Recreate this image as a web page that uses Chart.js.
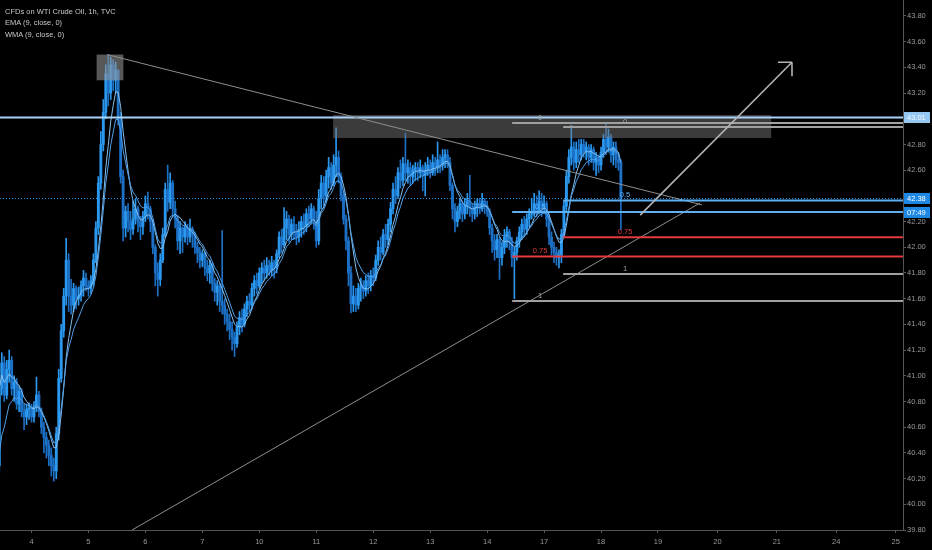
<!DOCTYPE html>
<html>
<head>
<meta charset="utf-8">
<title>CFDs on WTI Crude Oil, 1h</title>
<script src="https://cdn.jsdelivr.net/npm/chart.js@4.4.1/dist/chart.umd.min.js"></script>
<style>
  html, body { margin: 0; padding: 0; background: #000; }
  #wrap { position: relative; width: 932px; height: 550px; background: #000; overflow: hidden; }
  #legend {
    position: absolute; left: 5px; top: 6px;
    font-family: "Liberation Sans", Arial, sans-serif; font-size: 7.5px; line-height: 11.3px;
    color: #c8c8c8; pointer-events: none;
  }
</style>
</head>
<body>
<div id="wrap">
  <canvas id="chart" width="932" height="550"></canvas>
  <div id="legend">
    <div>CFDs on WTI Crude Oil, 1h, TVC</div>
    <div>EMA (9, close, 0)</div>
    <div>WMA (9, close, 0)</div>
  </div>
</div>
<script>
// hourly bars, 12 per row
const opens = [
  40.30, 40.90, 41.10, 40.85, 41.05, 41.12, 40.90, 40.95, 40.78, 40.88, 40.72, 40.68,
  40.74, 40.75, 40.68, 40.76, 40.85, 40.72, 40.60, 40.52, 40.46, 40.38, 40.30, 40.26,
  40.55, 40.98, 41.35, 41.62, 41.90, 41.62, 41.55, 41.68, 41.60, 41.62, 41.70, 41.76,
  41.70, 41.68, 41.74, 41.90, 42.15, 42.50, 42.80, 43.05, 43.35, 43.20, 43.42, 43.30,
  43.38, 43.00, 42.55, 42.15, 42.28, 42.20, 42.14, 42.22, 42.30, 42.20, 42.16, 42.24,
  42.34, 42.30, 42.20, 42.00, 41.80, 41.75, 41.90, 42.10, 42.45, 42.35, 42.50, 42.30,
  42.22, 42.05, 42.15, 42.08, 42.15, 42.08, 42.14, 42.10, 42.00, 41.96, 41.90, 41.95,
  41.84, 41.80, 41.86, 41.72, 41.65, 41.70, 41.58, 41.55, 41.48, 41.42, 41.36, 41.30,
  41.25, 41.38, 41.45, 41.40, 41.52, 41.58, 41.55, 41.68, 41.74, 41.70, 41.80, 41.84,
  41.80, 41.86, 41.82, 41.88, 41.84, 41.95, 42.08, 42.02, 42.15, 42.22, 42.10, 42.18,
  42.12, 42.08, 42.14, 42.20, 42.16, 42.26, 42.22, 42.30, 42.20, 42.05, 42.38, 42.50,
  42.40, 42.55, 42.62, 42.50, 42.64, 42.70, 42.55, 42.40, 42.22, 42.05, 41.80, 41.56,
  41.62, 41.55, 41.68, 41.70, 41.66, 41.74, 41.70, 41.78, 41.76, 41.90, 42.00, 41.96,
  42.10, 42.06, 42.18, 42.30, 42.45, 42.40, 42.58, 42.52, 42.65, 42.58, 42.62, 42.55,
  42.60, 42.62, 42.58, 42.62, 42.56, 42.60, 42.64, 42.58, 42.66, 42.62, 42.68, 42.64,
  42.70, 42.72, 42.66, 42.48, 42.30, 42.20, 42.28, 42.34, 42.26, 42.32, 42.36, 42.30,
  42.26, 42.32, 42.34, 42.30, 42.36, 42.32, 42.28, 42.15, 42.05, 41.98, 42.06, 41.92,
  42.00, 42.08, 42.12, 42.04, 41.92, 41.96, 42.05, 42.12, 42.18, 42.14, 42.22, 42.26,
  42.26, 42.34, 42.28, 42.36, 42.30, 42.34, 42.22, 42.08, 42.00, 41.96, 41.92, 41.94,
  42.10, 42.32, 42.55, 42.70, 42.78, 42.66, 42.76, 42.72, 42.80, 42.74, 42.78, 42.70,
  42.76, 42.66, 42.70, 42.64, 42.74, 42.84, 42.78, 42.86, 42.72, 42.78, 42.68, 42.66
];
const highs = [
  40.95, 41.18, 41.15, 41.12, 41.20, 41.15, 41.00, 40.98, 40.92, 40.90, 40.78, 40.78,
  40.79, 40.78, 40.80, 40.99, 40.88, 40.75, 40.64, 40.56, 40.50, 40.44, 40.36, 40.60,
  41.05, 41.40, 41.68, 42.07, 41.95, 41.75, 41.72, 41.70, 41.69, 41.74, 41.82, 41.80,
  41.74, 41.78, 41.95, 42.20, 42.55, 42.90, 43.15, 43.42, 43.50, 43.48, 43.46, 43.44,
  43.38, 43.05, 42.60, 42.32, 42.34, 42.28, 42.36, 42.38, 42.32, 42.24, 42.28, 42.40,
  42.43, 42.32, 42.22, 42.02, 41.88, 41.95, 42.15, 42.50, 42.64, 42.58, 42.52, 42.36,
  42.25, 42.20, 42.16, 42.20, 42.18, 42.22, 42.16, 42.12, 42.04, 42.00, 41.98, 41.96,
  41.90, 41.90, 41.88, 41.76, 41.74, 41.72, 42.13, 41.60, 41.52, 41.48, 41.42, 41.34,
  41.42, 41.50, 41.52, 41.56, 41.62, 41.64, 41.72, 41.78, 41.80, 41.84, 41.88, 41.90,
  41.92, 41.90, 41.93, 41.90, 41.98, 42.12, 42.14, 42.31, 42.28, 42.25, 42.22, 42.24,
  42.18, 42.20, 42.24, 42.26, 42.30, 42.32, 42.34, 42.32, 42.28, 42.45, 42.56, 42.55,
  42.60, 42.70, 42.66, 42.72, 42.93, 42.75, 42.58, 42.44, 42.25, 42.08, 41.85, 41.70,
  41.68, 41.72, 41.76, 41.74, 41.78, 41.80, 41.82, 41.84, 41.94, 42.05, 42.08, 42.14,
  42.18, 42.22, 42.35, 42.50, 42.55, 42.62, 42.68, 42.70, 42.89, 42.68, 42.66, 42.64,
  42.66, 42.66, 42.68, 42.64, 42.66, 42.70, 42.68, 42.72, 42.70, 42.82, 42.72, 42.76,
  42.76, 42.76, 42.70, 42.50, 42.34, 42.32, 42.38, 42.36, 42.38, 42.42, 42.56, 42.34,
  42.36, 42.38, 42.38, 42.42, 42.38, 42.36, 42.30, 42.18, 42.10, 42.10, 42.08, 42.04,
  42.14, 42.16, 42.14, 42.08, 42.00, 42.08, 42.16, 42.22, 42.24, 42.26, 42.30, 42.38,
  42.42, 42.40, 42.44, 42.42, 42.40, 42.36, 42.26, 42.12, 42.04, 42.00, 41.98, 42.14,
  42.36, 42.60, 42.76, 42.95, 42.82, 42.82, 42.84, 42.84, 42.84, 42.82, 42.80, 42.80,
  42.78, 42.74, 42.72, 42.78, 42.88, 42.97, 42.92, 42.88, 42.82, 42.82, 42.74, 42.68
];
const lows = [
  40.25, 40.85, 40.80, 40.82, 40.95, 40.85, 40.80, 40.74, 40.72, 40.68, 40.58, 40.62,
  40.66, 40.64, 40.64, 40.72, 40.68, 40.55, 40.40, 40.36, 40.30, 40.22, 40.18, 40.20,
  40.50, 40.95, 41.30, 41.55, 41.50, 41.48, 41.50, 41.52, 41.55, 41.58, 41.62, 41.66,
  41.62, 41.64, 41.70, 41.88, 42.10, 42.45, 42.75, 43.00, 43.10, 43.15, 43.22, 43.20,
  42.95, 42.50, 42.05, 42.08, 42.12, 42.06, 42.10, 42.18, 42.12, 42.06, 42.10, 42.20,
  42.22, 42.12, 41.95, 41.70, 41.62, 41.70, 41.88, 42.08, 42.28, 42.30, 42.24, 42.15,
  41.98, 41.95, 41.96, 42.04, 42.02, 42.04, 42.00, 41.95, 41.88, 41.84, 41.85, 41.78,
  41.74, 41.72, 41.66, 41.58, 41.55, 41.50, 41.48, 41.40, 41.35, 41.28, 41.20, 41.15,
  41.22, 41.32, 41.34, 41.38, 41.46, 41.50, 41.52, 41.62, 41.64, 41.68, 41.72, 41.74,
  41.76, 41.78, 41.78, 41.76, 41.80, 41.92, 41.96, 42.00, 42.06, 42.04, 42.06, 42.06,
  42.02, 42.04, 42.08, 42.10, 42.12, 42.16, 42.18, 42.14, 42.00, 42.02, 42.30, 42.32,
  42.36, 42.46, 42.45, 42.48, 42.55, 42.50, 42.36, 42.18, 41.98, 41.70, 41.49, 41.50,
  41.50, 41.52, 41.58, 41.60, 41.62, 41.64, 41.66, 41.70, 41.74, 41.86, 41.90, 41.94,
  42.00, 42.02, 42.12, 42.26, 42.34, 42.38, 42.46, 42.48, 42.52, 42.50, 42.48, 42.50,
  42.52, 42.52, 42.54, 42.44, 42.40, 42.56, 42.54, 42.56, 42.56, 42.58, 42.58, 42.60,
  42.62, 42.62, 42.44, 42.22, 42.12, 42.16, 42.22, 42.20, 42.22, 42.26, 42.24, 42.20,
  42.22, 42.24, 42.26, 42.28, 42.26, 42.24, 42.10, 41.96, 41.90, 41.92, 41.75, 41.86,
  41.95, 42.00, 41.98, 41.85, 41.60, 41.90, 42.00, 42.06, 42.08, 42.10, 42.16, 42.22,
  42.24, 42.24, 42.26, 42.24, 42.26, 42.16, 42.02, 41.94, 41.88, 41.86, 41.84, 41.88,
  42.08, 42.28, 42.50, 42.64, 42.60, 42.62, 42.66, 42.68, 42.70, 42.68, 42.64, 42.66,
  42.60, 42.56, 42.58, 42.60, 42.70, 42.72, 42.74, 42.66, 42.64, 42.62, 42.60, 42.14
];
const closes = [
  40.90, 41.10, 40.85, 41.05, 41.12, 40.90, 40.95, 40.78, 40.88, 40.72, 40.68, 40.74,
  40.75, 40.68, 40.76, 40.85, 40.72, 40.60, 40.52, 40.46, 40.38, 40.30, 40.26, 40.55,
  40.98, 41.35, 41.62, 41.90, 41.62, 41.55, 41.68, 41.60, 41.62, 41.70, 41.76, 41.70,
  41.68, 41.74, 41.90, 42.15, 42.50, 42.80, 43.05, 43.35, 43.20, 43.42, 43.30, 43.38,
  43.00, 42.55, 42.15, 42.28, 42.20, 42.14, 42.22, 42.30, 42.20, 42.16, 42.24, 42.34,
  42.30, 42.20, 42.00, 41.80, 41.75, 41.90, 42.10, 42.45, 42.35, 42.50, 42.30, 42.22,
  42.05, 42.15, 42.08, 42.15, 42.08, 42.14, 42.10, 42.00, 41.96, 41.90, 41.95, 41.84,
  41.80, 41.86, 41.72, 41.65, 41.70, 41.58, 41.55, 41.48, 41.42, 41.36, 41.30, 41.25,
  41.38, 41.45, 41.40, 41.52, 41.58, 41.55, 41.68, 41.74, 41.70, 41.80, 41.84, 41.80,
  41.86, 41.82, 41.88, 41.84, 41.95, 42.08, 42.02, 42.15, 42.22, 42.10, 42.18, 42.12,
  42.08, 42.14, 42.20, 42.16, 42.26, 42.22, 42.30, 42.20, 42.05, 42.38, 42.50, 42.40,
  42.55, 42.62, 42.50, 42.64, 42.70, 42.55, 42.40, 42.22, 42.05, 41.80, 41.56, 41.62,
  41.55, 41.68, 41.70, 41.66, 41.74, 41.70, 41.78, 41.76, 41.90, 42.00, 41.96, 42.10,
  42.06, 42.18, 42.30, 42.45, 42.40, 42.58, 42.52, 42.65, 42.58, 42.62, 42.55, 42.60,
  42.62, 42.58, 42.62, 42.56, 42.60, 42.64, 42.58, 42.66, 42.62, 42.68, 42.64, 42.70,
  42.72, 42.66, 42.48, 42.30, 42.20, 42.28, 42.34, 42.26, 42.32, 42.36, 42.30, 42.26,
  42.32, 42.34, 42.30, 42.36, 42.32, 42.28, 42.15, 42.05, 41.98, 42.06, 41.92, 42.00,
  42.08, 42.12, 42.04, 41.92, 41.96, 42.05, 42.12, 42.18, 42.14, 42.22, 42.26, 42.26,
  42.34, 42.28, 42.36, 42.30, 42.34, 42.22, 42.08, 42.00, 41.96, 41.92, 41.94, 42.10,
  42.32, 42.55, 42.70, 42.78, 42.66, 42.76, 42.72, 42.80, 42.74, 42.78, 42.70, 42.76,
  42.66, 42.70, 42.64, 42.74, 42.84, 42.78, 42.86, 42.72, 42.78, 42.68, 42.66, 42.38
];

// day labels sit on the first bar of each session (future days are 24 bars)
const dayTicks = [13, 36, 59, 82, 105, 128, 151, 174, 197, 220, 243, 266, 290, 314, 338, 362];
const dayLabels = ['4', '5', '6', '7', '10', '11', '12', '13', '14', '17', '18', '19', '20', '21', '24', '25'];
const priceTicks = [39.8, 40.0, 40.2, 40.4, 40.6, 40.8, 41.0, 41.2, 41.4, 41.6, 41.8,
                    42.0, 42.2, 42.4, 42.6, 42.8, 43.0, 43.2, 43.4, 43.6, 43.8];

const maLength = 9;
const emaSeed = 40.27;

// drawings, in bar index and price
const zones = [[39.3, 50.1, 43.50, 43.30], [134.8, 311.7, 43.03, 42.85]];
const trendLines = [[43.5, 43.50, 283.8, 42.33], [53.6, 39.80, 283.0, 42.345]];
const arrowLine = [258.8, 42.25, 320.1, 43.44];
const levelPrice = 43.01;
const lastPrice = 42.38;
const countdown = '07:49';
const fibLevels = [0, 0.5, 0.75, 1];
const fibStarts = [207.1, 227.7];
const fibLabelAt = [218.4, 252.7];
const fibTops = [42.967, 42.936];
const fibBottoms = [41.582, 41.792];

function emaOf(values, length, seed) {
  const k = 2 / (length + 1);
  let prev = seed;
  return values.map(v => (prev = prev + k * (v - prev)));
}

function wmaOf(values, length) {
  return values.map((v, i) => {
    let num = 0, den = 0;
    for (let w = 1; w <= length; w++) {
      const idx = i - length + w;
      if (idx < 0) continue;
      num += values[idx] * w;
      den += w;
    }
    return num / den;
  });
}

const upColor = '#2b98f0';
const downColor = '#1c70c6';
const candleColors = closes.map((c, j) => (c >= opens[j] ? upColor : downColor));
const ema = emaOf(closes, maLength, emaSeed);
const wma = wmaOf(closes, maLength);
const fibColors = ['#a0a0a0', '#5fb0f2', '#e23b3f', '#a0a0a0'];
const font = '"Liberation Sans", Arial, sans-serif';

function strokeLine(ctx, x0, y0, x1, y1) {
  ctx.beginPath();
  ctx.moveTo(x0, y0);
  ctx.lineTo(x1, y1);
  ctx.stroke();
}

const drawings = {
  id: 'drawings',
  afterDatasetsDraw(chart) {
    const { ctx, chartArea: area, scales: { x, y } } = chart;
    const px = v => x.getPixelForValue(v);
    const py = v => y.getPixelForValue(v);
    ctx.save();
    ctx.beginPath();
    ctx.rect(area.left, area.top, area.right - area.left, area.bottom - area.top);
    ctx.clip();

    zones.forEach((z, k) => {
      ctx.fillStyle = k === 0 ? 'rgba(150,150,150,0.58)' : 'rgba(118,118,118,0.5)';
      ctx.fillRect(px(z[0]), py(z[2]), px(z[1]) - px(z[0]), py(z[3]) - py(z[2]));
    });

    ctx.lineWidth = 2;
    ctx.strokeStyle = '#a9d4f7';
    strokeLine(ctx, area.left, py(levelPrice), area.right, py(levelPrice));

    ctx.lineWidth = 1;
    ctx.strokeStyle = '#2196f3';
    ctx.setLineDash([1, 2]);
    strokeLine(ctx, area.left, py(lastPrice), area.right, py(lastPrice));
    ctx.setLineDash([]);

    ctx.strokeStyle = '#8e8e8e';
    ctx.lineWidth = 1;
    trendLines.forEach(t => strokeLine(ctx, px(t[0]), py(t[1]), px(t[2]), py(t[3])));

    ctx.font = '7.5px ' + font;
    ctx.textAlign = 'center';
    ctx.textBaseline = 'bottom';
    fibStarts.forEach((start, k) => {
      fibLevels.forEach((lv, n) => {
        const price = fibTops[k] - (fibTops[k] - fibBottoms[k]) * lv;
        ctx.strokeStyle = fibColors[n];
        ctx.lineWidth = 2;
        strokeLine(ctx, px(start), py(price), area.right, py(price));
        ctx.fillStyle = fibColors[n];
        ctx.fillText(String(lv), px(fibLabelAt[k]), py(price) - 1.5);
      });
    });

    // arrow
    const ax0 = px(arrowLine[0]), ay0 = py(arrowLine[1]);
    const ax1 = px(arrowLine[2]), ay1 = py(arrowLine[3]);
    ctx.strokeStyle = '#b4b4b4';
    ctx.lineWidth = 1.6;
    strokeLine(ctx, ax0, ay0, ax1, ay1);
    const ang = Math.atan2(ay1 - ay0, ax1 - ax0);
    [ang + Math.PI * 0.75, ang - Math.PI * 0.75].forEach(a => {
      strokeLine(ctx, ax1, ay1, ax1 + 14 * Math.cos(a), ay1 + 14 * Math.sin(a));
    });
    ctx.restore();
  },
  afterDraw(chart) {
    const { ctx, chartArea: area, scales: { y } } = chart;
    const tag = (cy, text, bg, fg) => {
      ctx.fillStyle = bg;
      ctx.fillRect(area.right + 1, cy - 5.5, 26, 11);
      ctx.fillStyle = fg;
      ctx.fillText(text, area.right + 4, cy + 0.5);
    };
    ctx.save();
    ctx.font = '7.5px ' + font;
    ctx.textAlign = 'left';
    ctx.textBaseline = 'middle';
    tag(y.getPixelForValue(levelPrice), levelPrice.toFixed(2), '#94c7f1', '#f4f9ff');
    tag(y.getPixelForValue(lastPrice), lastPrice.toFixed(2), '#1e88e5', '#ffffff');
    tag(y.getPixelForValue(lastPrice) + 14, countdown, '#1e88e5', '#ffffff');
    ctx.restore();
  }
};

const tickFont = { family: font, size: 7.5 };

new Chart(document.getElementById('chart'), {
  type: 'bar',
  data: {
    datasets: [
      {
        type: 'line',
        label: 'EMA (9, close, 0)',
        data: ema.map((v, j) => ({ x: j, y: v })),
        borderColor: '#4f9fe6',
        borderWidth: 1,
        pointRadius: 0,
        tension: 0,
        order: 0
      },
      {
        type: 'line',
        label: 'WMA (9, close, 0)',
        data: wma.map((v, j) => ({ x: j, y: v })),
        borderColor: '#86c0ee',
        borderWidth: 1,
        pointRadius: 0,
        tension: 0,
        order: 0
      },
      {
        label: 'bodies',
        data: closes.map((c, j) => ({ x: j, y: [opens[j], c] })),
        backgroundColor: candleColors,
        barThickness: 2.2,
        minBarLength: 1,
        grouped: false,
        order: 1
      },
      {
        label: 'wicks',
        data: closes.map((c, j) => ({
          x: j,
          y: [Math.min(lows[j], opens[j], c), Math.max(highs[j], opens[j], c)]
        })),
        backgroundColor: candleColors,
        barThickness: 1,
        grouped: false,
        order: 2
      }
    ]
  },
  options: {
    responsive: false,
    animation: false,
    events: [],
    layout: { padding: 0 },
    plugins: { legend: { display: false }, tooltip: { enabled: false } },
    scales: {
      x: {
        type: 'linear',
        offset: false,
        min: 0.28,
        max: 364.94,
        grid: { display: true, offset: false, drawOnChartArea: false, drawTicks: true, tickLength: 3, color: '#5a5a5a' },
        border: { display: true, color: '#555555' },
        ticks: { color: '#9a9a9a', font: tickFont, padding: 4, maxRotation: 0, autoSkip: false,
                  callback: (v, i) => dayLabels[i] },
        afterBuildTicks: scale => { scale.ticks = dayTicks.map(v => ({ value: v })); },
        afterFit: scale => {
          scale.height = 20;
          scale.paddingLeft = 0; scale.paddingRight = 0;
        }
      },
      y: {
        type: 'linear',
        position: 'right',
        beginAtZero: false,
        min: 39.8,
        max: 43.9245,
        grid: { display: true, drawOnChartArea: false, drawTicks: true, tickLength: 3, color: '#5a5a5a' },
        border: { display: true, color: '#555555' },
        ticks: { color: '#9a9a9a', font: tickFont, padding: 1, callback: v => v.toFixed(2) },
        afterBuildTicks: scale => { scale.ticks = priceTicks.map(v => ({ value: v })); },
        afterFit: scale => {
          scale.width = 29;
          scale.paddingTop = 0; scale.paddingBottom = 0;
        }
      }
    }
  },
  plugins: [drawings]
});
</script>
</body>
</html>
